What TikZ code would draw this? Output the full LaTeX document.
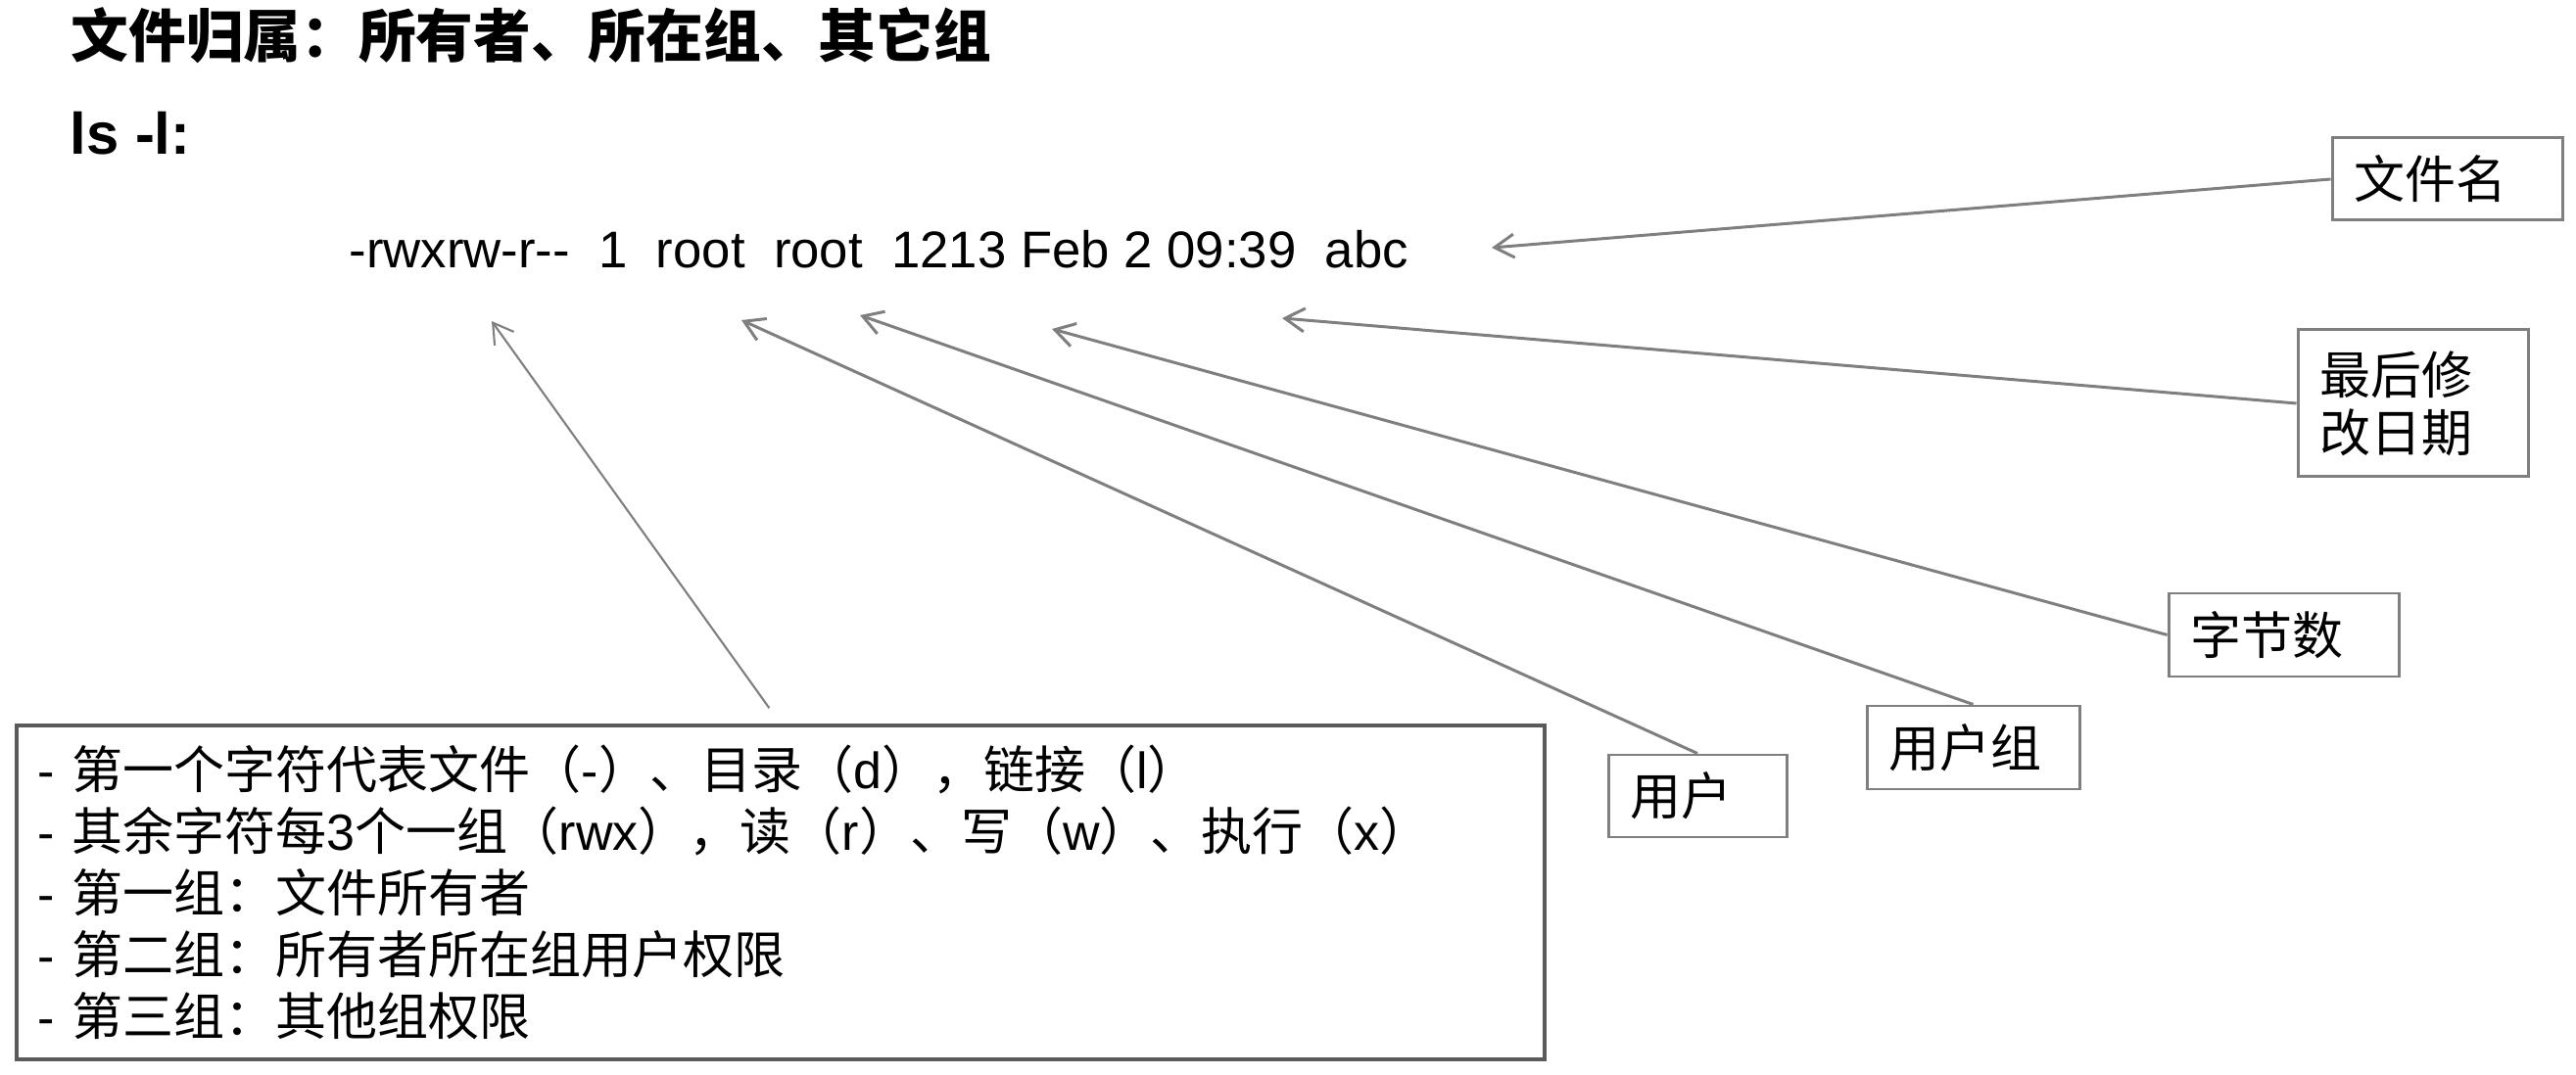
\documentclass[tikz,border=0pt]{standalone}
\usepackage{fontspec}
\setmainfont{Liberation Sans}
\newfontfamily\cjk{Noto Sans CJK SC}
\usepackage{tikz}
\usetikzlibrary{arrows.meta}
\newcommand\lat[1]{{\rmfamily #1}}
\definecolor{linegray}{HTML}{7F7F7F}
\definecolor{framegray}{HTML}{5A5A5A}

\begin{document}
\begin{tikzpicture}[
    labelbox/.style={draw=linegray, line width=0.85pt, inner xsep=0.22cm, inner ysep=0pt, align=left,
        font=\cjk\fontsize{14.8}{16.8}\selectfont},
    conn/.style={draw=linegray, line width=0.85pt, -{Straight Barb[length=0.2cm,width=0.24cm]}}]
                \useasboundingbox (0,0) rectangle (26.30,-10.98);
                \node[anchor=base west, inner sep=0, font=\cjk\bfseries\fontsize{16.7}{20}\selectfont] (title) at (0.72,-0.59) {文件归属：所有者、所在组、其它组};
                \node[anchor=base west, inner sep=0, font=\bfseries\fontsize{17}{20}\selectfont] (cmd) at (0.71,-1.58) {ls -l:};
                \node[anchor=base west, inner sep=0, font=\fontsize{15}{18}\selectfont] (lsline) at (3.56,-2.74) {-rwxrw-r-{}-~~1~~root~~root~~1213 Feb 2 09:39~~abc};
                \node[labelbox, minimum width=2.35cm, minimum height=0.84cm, text width=1.91cm] (fname) at (24.985,-1.83) {文件名};
                \node[labelbox, minimum width=2.35cm, minimum height=1.50cm, text width=1.91cm] (mdate) at (24.635,-4.12) {最后修\\改日期};
                \node[labelbox, minimum width=2.35cm, minimum height=0.85cm, text width=1.91cm] (size) at (23.315,-6.485) {字节数};
                \node[labelbox, minimum width=2.17cm, minimum height=0.85cm, text width=1.73cm] (grp) at (20.145,-7.635) {用户组};
                \node[labelbox, minimum width=1.82cm, minimum height=0.84cm, text width=1.38cm] (usr) at (17.33,-8.13) {用户};
                \node[labelbox, draw=framegray, line width=0.9pt, minimum width=15.60cm, minimum height=3.41cm, text width=15.16cm,
                    font=\cjk\fontsize{14.8}{17.9}\selectfont] (perm) at (7.97,-9.115) {\lat{- }第一个字符代表文件（\lat{-}）、目录（\lat{d}），链接（\lat{l}）\\
                    \lat{- }其余字符每\lat{3}个一组（\lat{rwx}），读（\lat{r}）、写（\lat{w}）、执行（\lat{x}）\\
                    \lat{- }第一组：文件所有者\\
                    \lat{- }第二组：所有者所在组用户权限\\
                    \lat{- }第三组：其他组权限};
                \coordinate (tperm) at (5.02,-3.28);
                \coordinate (tusr) at (7.57,-3.27);
                \coordinate (tgrp) at (8.78,-3.22);
                \coordinate (tsize) at (10.74,-3.36);
                \coordinate (tdate) at (13.09,-3.25);
                \coordinate (tname) at (15.23,-2.53);
                \draw[conn] (fname.west) -- (tname);
                \draw[conn] (mdate.west) -- (tdate);
                \draw[conn] (size.west) -- (tsize);
                \draw[conn] (grp.north) -- (tgrp);
                \draw[conn] (usr.north) -- (tusr);
                \draw[conn, line width=0.6pt, shorten <=0.2cm] (perm.north) -- (tperm);
            \end{tikzpicture}
\end{document}
